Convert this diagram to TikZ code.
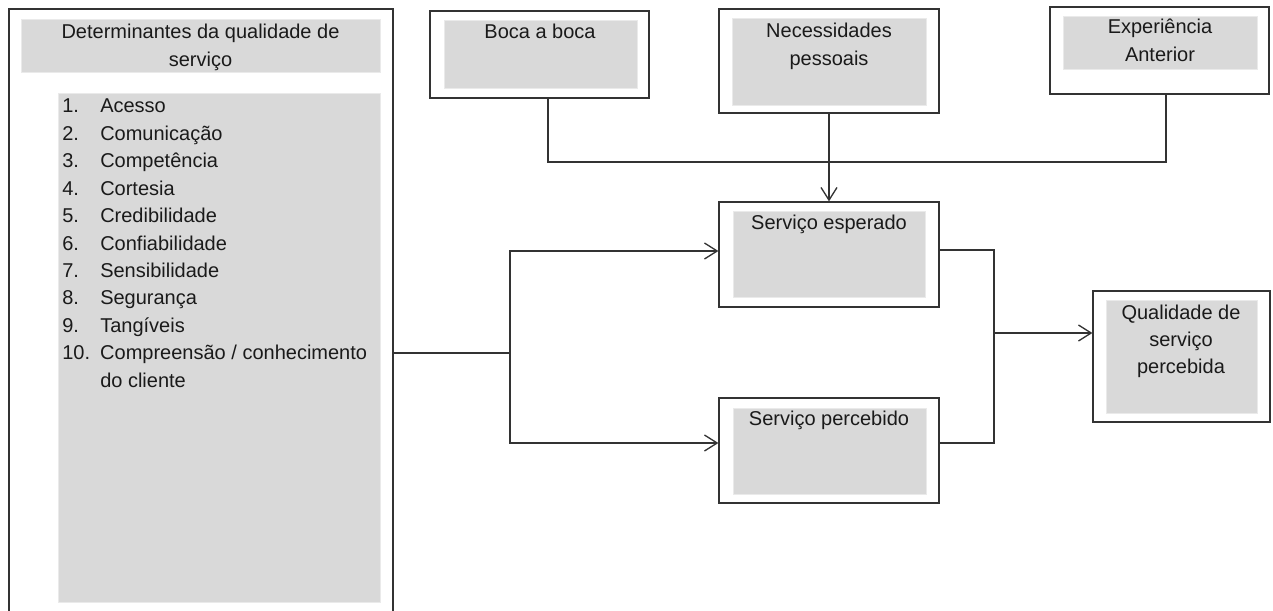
\documentclass[tikz,border=0pt]{standalone}
\usepackage{fontspec}
\setmainfont{Liberation Sans}
\usetikzlibrary{arrows.meta,fit}
\definecolor{boxgray}{HTML}{D9D9D9}
\definecolor{lin}{HTML}{333333}
\definecolor{txt}{HTML}{1A1A1A}
\tikzset{
  outerbox/.style={draw=lin, line width=0.95pt, inner sep=0pt, fill=white},
  graybox/.style={fill=boxgray, draw=boxgray!55!white, line width=0.6pt, inner sep=0pt},
  lbl/.style={font=\fontsize{15}{20.5}\selectfont, inner sep=0pt, text=txt},
  conn/.style={draw=lin, line width=1pt},
  arr/.style={conn, -{Straight Barb[length=9.5pt,width=12pt]}}
}
\newcommand{\numitem}[2]{\makebox[28.5pt][l]{#1}#2}
\begin{document}
\begin{tikzpicture}[x=0.75pt,y=-0.75pt]
\useasboundingbox (0,0) rectangle (1273,610);
\clip (0,0) rectangle (1273,610);

% left box
\node[outerbox, fit={(9,9) (393,614)}] (L) {};
\node[graybox, fit={(21,19) (380,72)}] (Lh) {};
\node[graybox, fit={(58,93) (380,602)}] (Ll) {};
\node[lbl, anchor=base] (Lt1) at (200.5,39) {Determinantes da qualidade de};
\node[lbl, anchor=base] (Lt2) at (200.5,66) {serviço};
\node[lbl, anchor=base west] (i1) at (62,113) {\numitem{1.}{Acesso}};
\node[lbl, anchor=base west] (i2) at (62,140.4) {\numitem{2.}{Comunicação}};
\node[lbl, anchor=base west] (i3) at (62,167.8) {\numitem{3.}{Competência}};
\node[lbl, anchor=base west] (i4) at (62,195.2) {\numitem{4.}{Cortesia}};
\node[lbl, anchor=base west] (i5) at (62,222.6) {\numitem{5.}{Credibilidade}};
\node[lbl, anchor=base west] (i6) at (62,250) {\numitem{6.}{Confiabilidade}};
\node[lbl, anchor=base west] (i7) at (62,277.4) {\numitem{7.}{Sensibilidade}};
\node[lbl, anchor=base west] (i8) at (62,304.8) {\numitem{8.}{Segurança}};
\node[lbl, anchor=base west] (i9) at (62,332.2) {\numitem{9.}{Tangíveis}};
\node[lbl, anchor=base west] (i10) at (62,359.6) {\numitem{10.}{Compreensão / conhecimento}};
\node[lbl, anchor=base west] (i11) at (62,387) {\numitem{}{do cliente}};

% Boca a boca
\node[outerbox, fit={(430,11) (649,98)}] (boca) {};
\node[graybox, fit={(444,20) (637,88)}] (bocag) {};
\node[lbl, anchor=base] (bocat) at (540,39) {Boca a boca};

% Necessidades pessoais
\node[outerbox, fit={(719,9) (939,113)}] (nec) {};
\node[graybox, fit={(732,18) (926,105)}] (necg) {};
\node[lbl, anchor=base] (nect1) at (829,38) {Necessidades};
\node[lbl, anchor=base] (nect2) at (829,65) {pessoais};

% Experiencia anterior
\node[outerbox, fit={(1050,7) (1269,94)}] (exp) {};
\node[graybox, fit={(1063,16) (1257,69)}] (expg) {};
\node[lbl, anchor=base] (expt1) at (1160,34) {Experiência};
\node[lbl, anchor=base] (expt2) at (1160,61) {Anterior};

% Servico esperado
\node[outerbox, fit={(719,202) (939,307)}] (esp) {};
\node[graybox, fit={(733,211) (925,297)}] (espg) {};
\node[lbl, anchor=base] (espt) at (829,229) {Serviço esperado};

% Servico percebido
\node[outerbox, fit={(719,398) (939,503)}] (per) {};
\node[graybox, fit={(733,408) (926,494)}] (perg) {};
\node[lbl, anchor=base] (pert) at (829,425) {Serviço percebido};

% Qualidade
\node[outerbox, fit={(1093,291) (1270,422)}] (qual) {};
\node[graybox, fit={(1106,300) (1257,413)}] (qualg) {};
\node[lbl, anchor=base] (qt1) at (1181,319) {Qualidade de};
\node[lbl, anchor=base] (qt2) at (1181,346) {serviço};
\node[lbl, anchor=base] (qt3) at (1181,373) {percebida};

% connectors top
\coordinate (jb) at (548,162);
\coordinate (je) at (1166,162);
\draw[conn] (jb |- boca.south) -- (jb) -- (je) -- (je |- exp.south);
\draw[arr] (nec.south) -- (esp.north);

% connectors left
\coordinate (jl) at (510,353);
\coordinate (ya) at (510,251);
\coordinate (yb) at (510,443);
\draw[conn] (jl -| L.east) -- (jl);
\draw[arr] (jl) -- (ya) -- (ya -| esp.west);
\draw[arr] (jl) -- (yb) -- (yb -| per.west);

% connectors right
\coordinate (r1) at (994,250);
\coordinate (r2) at (994,443);
\coordinate (jr) at (994,333);
\draw[conn] (r1 -| esp.east) -- (r1) -- (r2) -- (r2 -| per.east);
\draw[arr] (jr) -- (jr -| qual.west);
\end{tikzpicture}
\end{document}
